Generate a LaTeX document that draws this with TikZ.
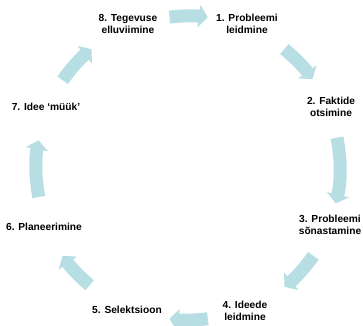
\documentclass[tikz,border=0pt]{standalone}
\usepackage{fontspec}
\setmainfont{Liberation Sans}
\usepackage{tikz}
\usetikzlibrary{arrows.meta}
\definecolor{cyclecyan}{RGB}{183,223,227}

\begin{document}
\begin{tikzpicture}[x=1pt, y=1pt, line cap=butt, line join=miter,
    cyclearrow/.style={draw=cyclecyan, line width=13pt, -{Triangle[width=22pt, length=9pt]}},
    steplabel/.style={align=center, font=\bfseries\fontsize{10.2}{11.5}\selectfont, inner sep=0pt}]
    \useasboundingbox (0,0) rectangle (363,325);

    \coordinate (C) at (188,157);

    \begin{scope}[shift={(C)}]
        \draw[cyclearrow] (97:152) arc[start angle=97, end angle=82.5, radius=152];
        \draw[cyclearrow] (51:153) arc[start angle=51, end angle=35.5, radius=153];
        \draw[cyclearrow] (11.5:152) arc[start angle=11.5, end angle=-13.5, radius=152];
        \draw[cyclearrow] (-35:153) arc[start angle=-35, end angle=-51, radius=153];
        \draw[cyclearrow] (-82.5:152) arc[start angle=-82.5, end angle=-97, radius=152];
        \draw[cyclearrow] (230:153) arc[start angle=230, end angle=215, radius=153];
        \draw[cyclearrow] (191:152) arc[start angle=191, end angle=169.5, radius=152];
        \draw[cyclearrow] (145:153) arc[start angle=145, end angle=129, radius=153];
    \end{scope}

    \node[steplabel] (l1) at (247,301) {1. Probleemi\\leidmine};
    \node[steplabel] (l2) at (331,218) {2. Faktide\\otsimine};
    \node[steplabel] (l3) at (330,100) {3. Probleemi\\sõnastamine};
    \node[steplabel] (l4) at (245,14) {4. Ideede\\leidmine};
    \node[steplabel] (l5) at (127,15) {5. Selektsioon};
    \node[steplabel] (l6) at (44,98) {6. Planeerimine};
    \node[steplabel] (l7) at (46,218) {7. Idee ‘müük’};
    \node[steplabel] (l8) at (128,301) {8. Tegevuse\\elluviimine};
\end{tikzpicture}
\end{document}
